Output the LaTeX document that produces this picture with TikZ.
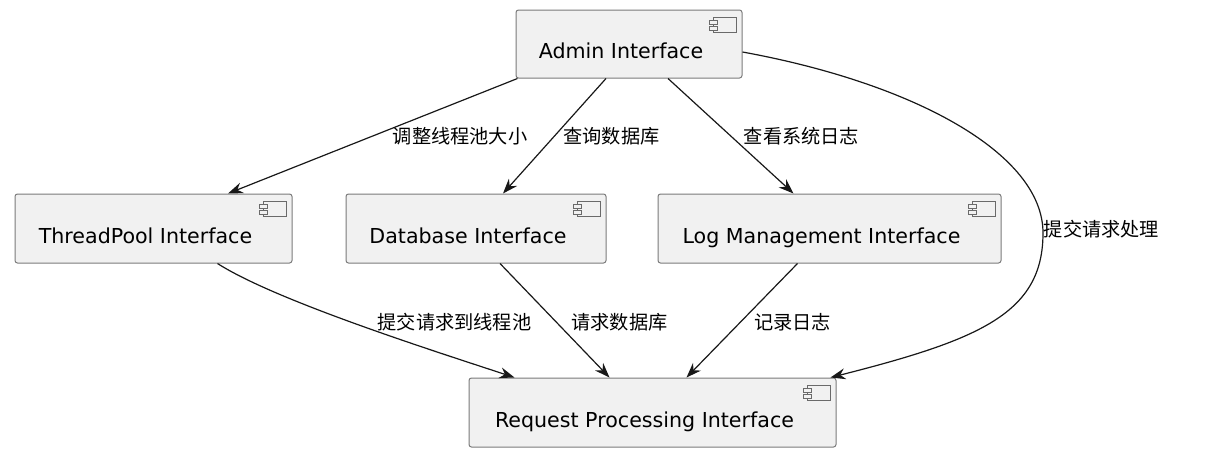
\documentclass[tikz,border=0pt]{standalone}
\usepackage{fontspec}
\setmainfont{DejaVu Sans}
\newfontfamily\cjk{Noto Sans CJK SC}
\usetikzlibrary{arrows.meta,calc}
\definecolor{boxfill}{HTML}{F1F1F1}
\definecolor{edgecol}{HTML}{181818}
\definecolor{boxline}{HTML}{7A7A7A}
\definecolor{iconcol}{HTML}{6A6A6A}
\newcommand\compicon[1]{%
  \draw[iconline] ($(#1.north east)+(-29,8)$) rectangle ($(#1.north east)+(-6,23)$);
  \draw[iconline] ($(#1.north east)+(-33,11)$) rectangle ($(#1.north east)+(-25,15)$);
  \draw[iconline] ($(#1.north east)+(-33,17)$) rectangle ($(#1.north east)+(-25,21)$);
}
\begin{document}
\begin{tikzpicture}[x=1pt,y=-1pt,
  comp/.style={draw=boxline, line width=1pt, fill=boxfill, rounded corners=2.5pt, inner sep=0pt},
  ctext/.style={anchor=base, font=\fontsize{20.6}{24}\selectfont, text=black, inner sep=0pt},
  elabel/.style={font=\cjk\fontsize{19.2}{22}\selectfont, text=black, inner sep=0pt},
  iconline/.style={draw=iconcol, line width=0.8pt, fill=boxfill},
  edge/.style={draw=edgecol, line width=1.2pt, -{Stealth[length=15pt,width=11pt,inset=5pt]}}]
\useasboundingbox (0,0) rectangle (1216,458);

% components
\node[comp, minimum width=226pt, minimum height=68pt] (admin) at (629,44) {};
\node[comp, minimum width=277pt, minimum height=69pt] (tp) at (153.5,228.5) {};
\node[comp, minimum width=260pt, minimum height=69pt] (db) at (476,228.5) {};
\node[comp, minimum width=343pt, minimum height=69pt] (log) at (829.5,228.5) {};
\node[comp, minimum width=367pt, minimum height=69pt] (req) at (652.5,412.5) {};

\node[ctext] (adminT) at ($(admin.center)+(-8,14.5)$) {Admin Interface};
\node[ctext] (tpT) at ($(tp.center)+(-8,14.5)$) {ThreadPool Interface};
\node[ctext] (dbT) at ($(db.center)+(-8,14.5)$) {Database Interface};
\node[ctext] (logT) at ($(log.center)+(-8,14.5)$) {Log Management Interface};
\node[ctext] (reqT) at ($(req.center)+(-8,14.5)$) {Request Processing Interface};

\compicon{admin}
\compicon{tp}
\compicon{db}
\compicon{log}
\compicon{req}

% connectors
\draw[edge] ([xshift=2pt]admin.south west) -- ([xshift=74.5pt]tp.north);
\draw[edge] ([xshift=-23pt]admin.south) -- ([xshift=27pt]db.north);
\draw[edge] ([xshift=39pt]admin.south) -- ([xshift=-36pt]log.north);
\draw[edge] ([xshift=64pt]tp.south) .. controls +(58,37) and +(-85,-28) .. ([xshift=-138pt]req.north);
\draw[edge] ([xshift=24pt]db.south) -- ([xshift=-43pt]req.north);
\draw[edge] ([xshift=-32pt]log.south) -- ([xshift=34pt]req.north);
\coordinate (bend) at (1043,233);
\draw[edge] ([yshift=-8pt]admin.east) .. controls +(170,31) and +(0,-80) .. (bend)
  .. controls +(0,80) and +(150,-38) .. ([xshift=-6pt]req.north east);

% labels
\node[elabel] (l1) at (460,136) {调整线程池大小};
\node[elabel] (l2) at (611.5,136) {查询数据库};
\node[elabel] (l3) at (801.5,136) {查看系统日志};
\node[elabel] (l4) at (454.5,322) {提交请求到线程池};
\node[elabel] (l5) at (619.5,322) {请求数据库};
\node[elabel] (l6) at (792.5,322) {记录日志};
\node[elabel] (l7) at (1101.5,229) {提交请求处理};
\end{tikzpicture}
\end{document}
